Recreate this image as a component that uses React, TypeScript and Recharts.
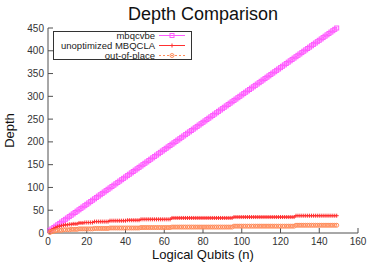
import { LineChart, Line, XAxis, YAxis } from 'recharts';

// logical qubit counts (x)
const qubits = [
  1, 2, 3, 4, 5, 6, 7, 8, 9, 10,
  11, 12, 13, 14, 15, 16, 17, 18, 19, 20,
  21, 22, 23, 24, 25, 26, 27, 28, 29, 30,
  31, 32, 33, 34, 35, 36, 37, 38, 39, 40,
  41, 42, 43, 44, 45, 46, 47, 48, 49, 50,
  51, 52, 53, 54, 55, 56, 57, 58, 59, 60,
  61, 62, 63, 64, 65, 66, 67, 68, 69, 70,
  71, 72, 73, 74, 75, 76, 77, 78, 79, 80,
  81, 82, 83, 84, 85, 86, 87, 88, 89, 90,
  91, 92, 93, 94, 95, 96, 97, 98, 99, 100,
  101, 102, 103, 104, 105, 106, 107, 108, 109, 110,
  111, 112, 113, 114, 115, 116, 117, 118, 119, 120,
  121, 122, 123, 124, 125, 126, 127, 128, 129, 130,
  131, 132, 133, 134, 135, 136, 137, 138, 139, 140,
  141, 142, 143, 144, 145, 146, 147, 148, 149,
];

const mbqcvbe = [
  6, 9, 12, 15, 18, 21, 24, 27, 30, 33,
  36, 39, 42, 45, 48, 51, 54, 57, 60, 63,
  66, 69, 72, 75, 78, 81, 84, 87, 90, 93,
  96, 99, 102, 105, 108, 111, 114, 117, 120, 123,
  126, 129, 132, 135, 138, 141, 144, 147, 150, 153,
  156, 159, 162, 165, 168, 171, 174, 177, 180, 183,
  186, 189, 192, 195, 198, 201, 204, 207, 210, 213,
  216, 219, 222, 225, 228, 231, 234, 237, 240, 243,
  246, 249, 252, 255, 258, 261, 264, 267, 270, 273,
  276, 279, 282, 285, 288, 291, 294, 297, 300, 303,
  306, 309, 312, 315, 318, 321, 324, 327, 330, 333,
  336, 339, 342, 345, 348, 351, 354, 357, 360, 363,
  366, 369, 372, 375, 378, 381, 384, 387, 390, 393,
  396, 399, 402, 405, 408, 411, 414, 417, 420, 423,
  426, 429, 432, 435, 438, 441, 444, 447, 450,
];

const unoptimized = [
  4, 7, 10, 12, 14, 15, 16, 17, 18, 18,
  19, 19, 20, 20, 20, 22, 22, 22, 23, 23,
  23, 23, 23, 25, 25, 25, 25, 25, 25, 25,
  25, 27, 27, 27, 27, 27, 27, 27, 27, 27,
  28, 28, 28, 28, 28, 28, 28, 30, 30, 30,
  30, 30, 30, 30, 30, 30, 30, 30, 30, 30,
  30, 30, 30, 33, 33, 33, 33, 33, 33, 33,
  33, 33, 33, 33, 33, 33, 33, 33, 33, 33,
  33, 33, 33, 33, 33, 33, 33, 33, 33, 33,
  33, 33, 33, 33, 33, 35, 35, 35, 35, 35,
  35, 35, 35, 35, 35, 35, 35, 35, 35, 35,
  35, 35, 35, 35, 35, 35, 35, 35, 35, 35,
  35, 35, 35, 35, 35, 35, 35, 38, 38, 38,
  38, 38, 38, 38, 38, 38, 38, 38, 38, 38,
  38, 38, 38, 38, 38, 38, 38, 38, 38,
];

const outOfPlace = [
  1, 3, 4, 5, 6, 6, 6, 7, 7, 7,
  7, 8, 8, 8, 8, 9, 9, 9, 9, 9,
  9, 9, 9, 10, 10, 10, 10, 10, 10, 10,
  10, 11, 11, 11, 11, 11, 11, 11, 11, 11,
  11, 11, 11, 11, 11, 11, 11, 12, 12, 12,
  12, 12, 12, 12, 12, 12, 12, 12, 12, 12,
  12, 12, 12, 13, 13, 13, 13, 13, 13, 13,
  13, 13, 13, 13, 13, 13, 13, 13, 13, 13,
  13, 13, 13, 13, 13, 13, 13, 13, 13, 13,
  13, 13, 13, 13, 13, 15, 15, 15, 15, 15,
  15, 15, 15, 15, 15, 15, 15, 15, 15, 15,
  15, 15, 15, 15, 15, 15, 15, 15, 15, 15,
  15, 15, 15, 15, 15, 15, 15, 17, 17, 17,
  17, 17, 17, 17, 17, 17, 17, 17, 17, 17,
  17, 17, 17, 17, 17, 17, 17, 17, 17,
];

const xTicks = [0, 20, 40, 60, 80, 100, 120, 140, 160];
const yTicks = [0, 50, 100, 150, 200, 250, 300, 350, 400, 450];

const data = qubits.map((n, i) => ({
  n,
  mbqcvbe: mbqcvbe[i],
  unoptimized: unoptimized[i],
  outOfPlace: outOfPlace[i],
}));

const PINK = '#ff5cff';
const RED = '#ff3030';
const ORANGE = '#ff8c5a';
const AXIS = '#505050';
const FONT = '"Liberation Sans", Arial, sans-serif';

const SquareDot = (props: any) => {
  const { cx, cy, index } = props;
  if (cx == null || cy == null) return <g key={index} />;
  return <rect key={index} x={cx - 2} y={cy - 2} width={4} height={4} fill="none" stroke={PINK} strokeWidth={1} />;
};

const PlusDot = (props: any) => {
  const { cx, cy, index } = props;
  if (cx == null || cy == null) return <g key={index} />;
  return <path key={index} d={`M${cx - 2},${cy}h4M${cx},${cy - 2}v4`} stroke={RED} strokeWidth={1} />;
};

const CircleDot = (props: any) => {
  const { cx, cy, index } = props;
  if (cx == null || cy == null) return <g key={index} />;
  return <circle key={index} cx={cx} cy={cy} r={2} fill="none" stroke={ORANGE} strokeWidth={1} />;
};

const legendItems = [
  { name: 'mbqcvbe', color: PINK, dash: undefined, marker: 'square' },
  { name: 'unoptimized MBQCLA', color: RED, dash: undefined, marker: 'plus' },
  { name: 'out-of-place', color: ORANGE, dash: '2 2', marker: 'circle' },
];

function LegendBox() {
  return (
    <svg width={139} height={29} style={{ position: 'absolute', left: 53, top: 31 }}>
      <rect x={0.5} y={0.5} width={138} height={28} fill="#fff" stroke="#333" strokeWidth={1} />
      {legendItems.map((it, i) => {
        const y = 4.5 + i * 10;
        return (
          <g key={it.name}>
            <text x={102} y={y + 3.5} textAnchor="end" fontSize={9.5} fill="#222" fontFamily={FONT}>
              {it.name}
            </text>
            <line x1={106} x2={132} y1={y} y2={y} stroke={it.color} strokeWidth={1} strokeDasharray={it.dash} />
            {it.marker === 'square' && <rect x={117} y={y - 2} width={4} height={4} fill="none" stroke={it.color} />}
            {it.marker === 'plus' && <path d={`M117,${y}h4M119,${y - 2}v4`} stroke={it.color} />}
            {it.marker === 'circle' && <circle cx={119} cy={y} r={2} fill="none" stroke={it.color} />}
          </g>
        );
      })}
    </svg>
  );
}

export default function App() {
  return (
    <div style={{ position: 'absolute', left: 0, top: 0, width: 374, height: 262, background: '#fff', fontFamily: FONT }}>
      <svg width={374} height={28} style={{ position: 'absolute', left: 0, top: 0 }}>
        <text x={203} y={20} textAnchor="middle" fontSize={18} fill="#111" fontFamily={FONT}>
          Depth Comparison
        </text>
      </svg>
      <LineChart
        width={374}
        height={262}
        data={data}
        margin={{ top: 28, right: 16, bottom: 0, left: 0 }}
        style={{ position: 'absolute', left: 0, top: 0 }}
      >
        <XAxis
          dataKey="n"
          type="number"
          domain={[0, 160]}
          ticks={xTicks}
          height={29}
          stroke={AXIS}
          tickSize={-5}
          tickMargin={10}
          tick={{ fontSize: 10, fill: '#333' }}
          label={{ value: 'Logical Qubits (n)', position: 'insideBottom', offset: 3, fontSize: 13, fill: '#111' }}
        />
        <XAxis
          xAxisId="top"
          orientation="top"
          type="number"
          domain={[0, 160]}
          ticks={xTicks}
          height={0}
          stroke={AXIS}
          tickSize={-5}
          tickFormatter={() => ''}
        />
        <YAxis
          type="number"
          domain={[0, 450]}
          ticks={yTicks}
          width={48}
          stroke={AXIS}
          tickSize={-5}
          tickMargin={9}
          tick={{ fontSize: 10, fill: '#333' }}
          label={{ value: 'Depth', angle: -90, position: 'insideLeft', offset: 9, fontSize: 13, fill: '#111', style: { textAnchor: 'middle' } }}
        />
        <YAxis
          yAxisId="right"
          orientation="right"
          type="number"
          domain={[0, 450]}
          ticks={yTicks}
          width={0}
          stroke={AXIS}
          tickSize={-5}
          tickFormatter={() => ''}
        />
        <Line dataKey="mbqcvbe" stroke={PINK} strokeWidth={1} dot={SquareDot} activeDot={false} isAnimationActive={false} />
        <Line dataKey="unoptimized" stroke={RED} strokeWidth={1} dot={PlusDot} activeDot={false} isAnimationActive={false} />
        <Line dataKey="outOfPlace" stroke={ORANGE} strokeWidth={1} strokeDasharray="2 2" dot={CircleDot} activeDot={false} isAnimationActive={false} />
      </LineChart>
      <LegendBox />
    </div>
  );
}
